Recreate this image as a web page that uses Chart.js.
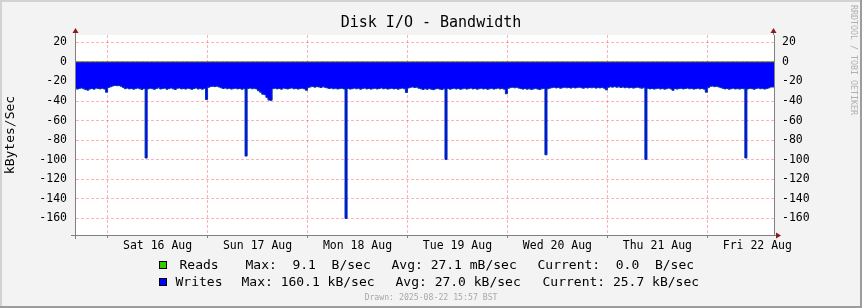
<!DOCTYPE html>
<html lang="en">
<head>
  <meta charset="UTF-8" />
  <title>Disk I/O - Bandwidth</title>
  <style>
    html, body {
      margin: 0;
      padding: 0;
      background: #f3f3f3;
    }
    #chart {
      display: block;
    }
  </style>
</head>
<body>

<canvas id="chart" width="862" height="308"></canvas>

<script src="https://cdn.jsdelivr.net/npm/chart.js"></script>

<script>
  // time axis is in hours since Fri 15 Aug 00:00
  const startHour = 16.17;
  const endHour = 184.0;
  const firstBinHour = 16.0;
  const binHours = 0.5;

  const dayLabels = ['Sat 16 Aug', 'Sun 17 Aug', 'Mon 18 Aug', 'Tue 19 Aug', 'Wed 20 Aug', 'Thu 21 Aug', 'Fri 22 Aug'];
  const labelHours = [36, 60, 84, 108, 132, 156, 180];
  const yTicks = [20, 10, 0, -10, -20, -30, -40, -50, -60, -70, -80, -90, -100, -110, -120, -130, -140, -150, -160, -170];

  // writes, kB/sec, 30 minute bins (drawn below zero)
  const writesFri15 = [27.4, 26.9, 27.8, 27.1, 26.6, 27.5, 28.3, 28.9, 27.7, 27.2, 27.9, 26.8, 27.3, 27.6, 27.0, 27.8];
  const writesSat16 = [31.0, 26.2, 25.4, 24.6, 24.1, 24.3, 24.2, 24.9, 26.1, 27.4, 26.8, 27.6, 27.1, 27.9, 27.3, 26.7,
    27.5, 28.1, 27.2, 98.3, 27.6, 26.9, 27.4, 28.0, 27.1, 26.5, 27.7, 27.2, 26.8, 27.9, 27.3, 26.6,
    27.5, 28.2, 27.0, 26.7, 27.6, 27.1, 27.8, 26.9, 27.4, 28.0, 27.2, 26.6, 27.7, 27.3, 27.9, 27.1];
  const writesSun17 = [38.5, 26.0, 25.2, 24.9, 25.3, 24.8, 25.6, 26.4, 27.2, 26.7, 27.5, 27.0, 27.8, 27.3, 26.9, 27.6,
    27.1, 27.9, 27.4, 96.3, 27.2, 26.8, 27.5, 27.0, 27.7, 29.5, 31.0, 33.0, 33.5, 36.3, 39.0, 39.3,
    27.4, 26.9, 27.6, 27.2, 27.9, 26.8, 27.3, 27.7, 27.0, 26.6, 27.5, 27.1, 27.8, 27.3, 26.9, 27.6];
  const writesMon18 = [29.0, 26.3, 25.5, 25.1, 25.8, 25.3, 25.6, 26.2, 25.4, 26.0, 26.6, 27.2, 26.8, 27.5, 27.0, 27.7,
    27.3, 26.9, 27.6, 160.1, 27.1, 27.8, 27.4, 26.8, 27.5, 27.0, 27.9, 27.2, 26.7, 27.6, 27.1, 27.8,
    27.3, 26.9, 27.7, 27.2, 26.6, 27.5, 27.0, 27.8, 27.4, 26.9, 27.6, 27.1, 27.9, 27.3, 26.8, 27.5];
  const writesTue19 = [31.2, 26.7, 26.0, 25.6, 26.2, 25.8, 26.9, 27.5, 28.2, 27.4, 28.0, 27.3, 27.9, 28.4, 27.6, 27.1,
    27.8, 28.3, 27.5, 99.7, 27.2, 27.9, 27.4, 26.9, 27.7, 27.2, 28.0, 27.5, 27.0, 27.8, 27.3, 26.8,
    27.6, 27.1, 27.9, 27.4, 26.9, 27.7, 27.2, 28.0, 27.5, 27.0, 27.8, 27.3, 26.8, 27.6, 27.1, 27.9];
  const writesWed20 = [32.6, 27.0, 26.3, 25.9, 26.5, 26.0, 26.8, 27.3, 27.8, 27.2, 27.9, 27.4, 28.1, 27.6, 27.0, 27.7,
    28.2, 27.5, 27.1, 95.0, 27.4, 26.8, 26.3, 26.0, 26.6, 26.1, 26.9, 26.4, 25.9, 26.5, 26.2, 26.8,
    26.0, 26.6, 26.3, 25.8, 26.4, 26.9, 26.2, 26.7, 26.1, 26.5, 26.0, 26.8, 26.3, 26.6, 26.1, 26.9];
  const writesThu21 = [28.6, 26.0, 25.4, 25.8, 25.2, 25.9, 25.5, 26.2, 25.7, 26.4, 25.9, 26.6, 26.1, 26.8, 26.3, 25.8,
    26.5, 26.9, 26.4, 99.7, 27.0, 27.6, 27.2, 27.8, 27.3, 26.9, 27.7, 27.1, 27.9, 27.4, 26.8, 27.6,
    29.0, 27.2, 27.8, 27.3, 27.0, 27.7, 27.2, 26.8, 27.5, 27.1, 27.8, 27.4, 26.9, 27.6, 27.2, 27.9];
  const writesFri22 = [31.0, 26.4, 25.0, 24.7, 25.3, 24.9, 25.6, 26.3, 27.0, 27.6, 27.2, 27.9, 27.4, 26.9, 27.7, 27.3,
    27.8, 27.1, 27.5, 98.3, 27.6, 27.0, 27.4, 27.9, 27.2, 26.7, 27.5, 27.1, 27.8, 27.3, 26.6, 25.7];

  // reads, B/sec (tiny, sits on the zero line)
  const readsHours = [16.0, 33.5, 34.0, 184.0];
  const readsBps = [0.0, 9.1, 0.0, 0.0];

  const legendReads = ['Reads', 'Max:  9.1  B/sec', 'Avg: 27.1 mB/sec', 'Current:  0.0  B/sec'];
  const legendWrites = ['Writes', 'Max: 160.1 kB/sec', 'Avg: 27.0 kB/sec', 'Current: 25.7 kB/sec'];
  const drawnText = 'Drawn: 2025-08-22 15:57 BST';

  const writesKB = [].concat(writesFri15, writesSat16, writesSun17, writesMon18, writesTue19, writesWed20, writesThu21, writesFri22);
  const writePoints = writesKB.map((v, i) => ({ x: firstBinHour + i * binHours, y: -v }));
  writePoints.push({ x: firstBinHour + writesKB.length * binHours, y: -writesKB[writesKB.length - 1] });
  const readPoints = readsHours.map((h, i) => ({ x: h, y: readsBps[i] / 1000 }));

  const MONO = "'DejaVu Sans Mono', monospace";

  const rrdFrame = {
    id: 'rrdFrame',
    beforeDraw(chart) {
      const ctx = chart.ctx;
      const a = chart.chartArea;
      ctx.save();
      ctx.fillStyle = '#f3f3f3';
      ctx.fillRect(0, 0, chart.width, chart.height);
      // 3d edge
      ctx.fillStyle = '#d2d2d2';
      ctx.fillRect(0, 0, chart.width, 2);
      ctx.fillRect(0, 0, 2, chart.height);
      ctx.fillStyle = '#9c9c9c';
      ctx.fillRect(0, chart.height - 2, chart.width, 2);
      ctx.fillRect(chart.width - 2, 0, 2, chart.height);
      ctx.fillStyle = '#ffffff';
      ctx.fillRect(a.left, a.top, a.right - a.left, a.bottom - a.top);
      ctx.restore();
    },
    afterDraw(chart) {
      const ctx = chart.ctx;
      const a = chart.chartArea;
      ctx.save();

      // axis extensions
      ctx.strokeStyle = '#808080';
      ctx.lineWidth = 1;
      ctx.beginPath();
      ctx.moveTo(a.left + 0.5, a.top - 5);
      ctx.lineTo(a.left + 0.5, a.bottom + 4);
      ctx.moveTo(a.right - 0.5, a.top - 5);
      ctx.lineTo(a.right - 0.5, a.top);
      ctx.moveTo(a.left - 4, a.bottom + 0.5);
      ctx.lineTo(a.right + 3, a.bottom + 0.5);
      ctx.stroke();

      // arrows
      ctx.fillStyle = '#8b1a1a';
      const up = (x) => {
        ctx.beginPath();
        ctx.moveTo(x - 3, a.top - 2);
        ctx.lineTo(x + 3, a.top - 2);
        ctx.lineTo(x, a.top - 7);
        ctx.closePath();
        ctx.fill();
      };
      up(a.left + 0.5);
      up(a.right - 0.5);
      ctx.beginPath();
      ctx.moveTo(a.right + 2, a.bottom + 0.5 - 3);
      ctx.lineTo(a.right + 2, a.bottom + 0.5 + 3);
      ctx.lineTo(a.right + 7, a.bottom + 0.5);
      ctx.closePath();
      ctx.fill();

      // title
      ctx.fillStyle = '#000';
      ctx.textBaseline = 'middle';
      ctx.textAlign = 'center';
      ctx.font = '15px ' + MONO;
      ctx.fillText('Disk I/O - Bandwidth', 431, 23);

      // y title
      ctx.save();
      ctx.translate(11, (a.top + a.bottom) / 2);
      ctx.rotate(-Math.PI / 2);
      ctx.font = '13px ' + MONO;
      ctx.fillText('kBytes/Sec', 0, 0);
      ctx.restore();

      // watermark
      ctx.save();
      ctx.translate(853, 5);
      ctx.rotate(Math.PI / 2);
      ctx.textAlign = 'left';
      ctx.fillStyle = '#b0b0b0';
      ctx.font = '8.3px ' + MONO;
      ctx.fillText('RRDTOOL / TOBI OETIKER', 0, 0);
      ctx.restore();

      // legend
      ctx.textAlign = 'left';
      ctx.font = '13px ' + MONO;
      const row = (items, xs, y, color) => {
        ctx.fillStyle = color;
        ctx.fillRect(159, y - 4, 8, 8);
        ctx.strokeStyle = '#000';
        ctx.strokeRect(159.5, y - 3.5, 7, 7);
        ctx.fillStyle = '#000';
        items.forEach((t, i) => ctx.fillText(t, xs[i], y + 0.5));
      };
      row(legendReads, [179.5, 245.5, 391.5, 537.5], 265, '#33cc00');
      row(legendWrites, [175.5, 241.5, 395.5, 542.5], 282, '#0000ff');

      ctx.textAlign = 'center';
      ctx.fillStyle = '#a8a8a8';
      ctx.font = '8.2px ' + MONO;
      ctx.fillText(drawnText, 431, 297.5);

      ctx.restore();
    }
  };

  const yTickFont = { family: MONO, size: 11.5 };

  const chart = new Chart(document.getElementById('chart'), {
    type: 'line',
    data: {
      datasets: [
        {
          label: 'Reads',
          data: readPoints,
          borderColor: '#5a6a10',
          borderWidth: 1,
          stepped: 'after',
          pointRadius: 0,
          fill: false,
          yAxisID: 'y'
        },
        {
          label: 'Writes',
          data: writePoints,
          borderColor: '#0036a8',
          backgroundColor: '#0000ff',
          borderWidth: 1,
          stepped: 'after',
          pointRadius: 0,
          fill: 'origin',
          yAxisID: 'y'
        }
      ]
    },
    options: {
      responsive: false,
      animation: false,
      events: [],
      layout: { padding: { top: 35, bottom: 48, left: 0, right: 0 } },
      plugins: {
        legend: { display: false },
        title: { display: false },
        tooltip: { enabled: false }
      },
      scales: {
        x: {
          type: 'linear',
          min: startHour,
          max: endHour,
          z: 1,
          afterFit: s => { s.height = 25; },
          afterBuildTicks: s => {
            const t = [];
            for (let h = 18; h <= 180; h += 6) t.push({ value: h });
            s.ticks = t;
          },
          grid: {
            color: c => (c.tick && c.tick.value % 24 === 0) ? 'rgba(255,0,0,0.3)' : 'rgba(255,255,255,0.35)',
            tickColor: c => (c.tick && c.tick.value % 24 === 0) ? '#808080' : 'rgba(0,0,0,0)',
            tickLength: 3,
            lineWidth: 1
          },
          border: { display: true, color: '#808080', dash: [3, 2] },
          ticks: {
            autoSkip: false,
            maxRotation: 0,
            padding: 1,
            color: '#000',
            font: yTickFont,
            callback: v => {
              const i = labelHours.indexOf(v);
              return i >= 0 ? dayLabels[i] : '';
            }
          }
        },
        y: {
          type: 'linear',
          position: 'left',
          min: -177,
          max: 27.5,
          z: 1,
          afterFit: s => { s.width = 75; },
          afterBuildTicks: s => { s.ticks = yTicks.map(v => ({ value: v })); },
          grid: {
            color: c => (c.tick && c.tick.value % 20 === 0) ? 'rgba(255,0,0,0.3)' : 'rgba(255,255,255,0.35)',
            drawTicks: false
          },
          border: { display: true, color: '#808080', dash: [3, 2] },
          ticks: {
            padding: 8,
            color: '#000',
            font: yTickFont,
            callback: v => (v % 20 === 0 ? String(v) : '')
          }
        },
        y2: {
          type: 'linear',
          position: 'right',
          min: -177,
          max: 27.5,
          z: 1,
          afterFit: s => { s.width = 88; },
          afterBuildTicks: s => { s.ticks = yTicks.map(v => ({ value: v })); },
          grid: { display: false, drawTicks: false },
          border: { display: true, color: '#808080' },
          ticks: {
            padding: 8,
            color: '#000',
            font: yTickFont,
            callback: v => (v % 20 === 0 ? String(v) : '')
          }
        }
      }
    },
    plugins: [rrdFrame]
  });
</script>

</body>
</html>
